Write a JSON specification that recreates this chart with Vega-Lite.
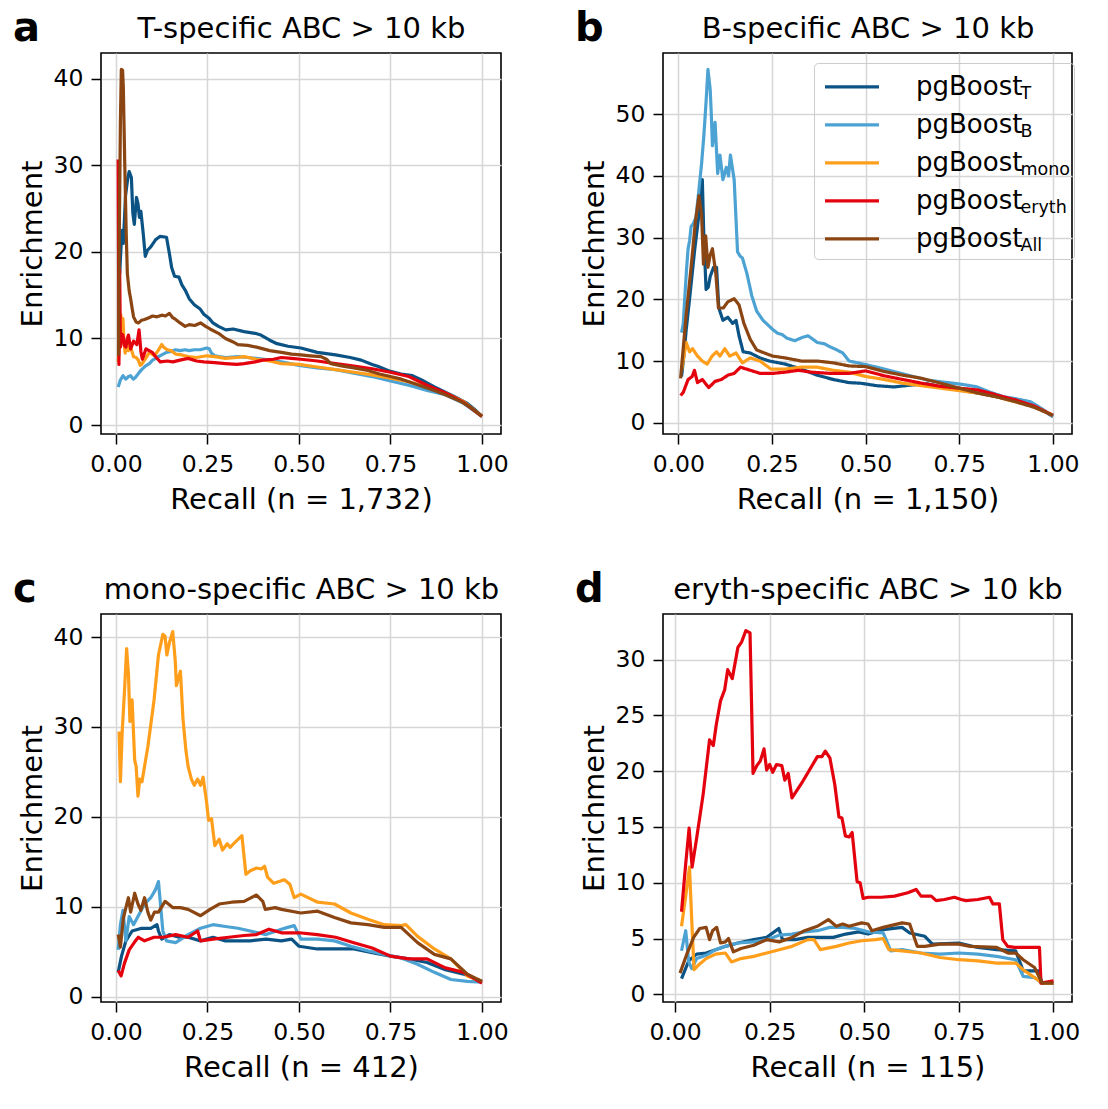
{
  "$schema": "https://vega.github.io/schema/vega-lite/v6.json",
  "background": "white",
  "padding": {"left": 12, "top": 8, "right": 5, "bottom": 5},
  "config": {
    "font": "DejaVu Sans",
    "view": {"stroke": "black", "strokeWidth": 1.6},
    "axis": {
      "labelFont": "DejaVu Sans", "labelFontSize": 23.5, "labelColor": "black",
      "titleFont": "DejaVu Sans", "titleFontSize": 29, "titleFontWeight": "normal", "titleColor": "black",
      "tickColor": "black", "tickSize": 10, "tickWidth": 1.5, "domain": false,
      "gridColor": "#d6d6d6", "gridWidth": 1.5, "gridOpacity": 1
    },
    "axisX": {"labelPadding": 8, "titlePadding": 10, "labelAngle": 0},
    "axisY": {"labelPadding": 8, "titlePadding": 6},
    "line": {"strokeWidth": 3.2, "strokeJoin": "round"}
  },
  "columns": 2,
  "spacing": {"row": 180, "column": 162},
  "bounds": "flush",
  "resolve": {"scale": {"color": "independent", "strokeDash": "independent"}, "legend": {"color": "independent", "strokeDash": "independent"}},
  "datasets": {
    "a": [
      {"model":"T","recall":0.010,"enrichment":17.5},{"model":"T","recall":0.016,"enrichment":22.5},{"model":"T","recall":0.020,"enrichment":21},{"model":"T","recall":0.026,"enrichment":26.5},{"model":"T","recall":0.032,"enrichment":28.5},{"model":"T","recall":0.036,"enrichment":29.3},{"model":"T","recall":0.042,"enrichment":28.6},{"model":"T","recall":0.046,"enrichment":24.5},{"model":"T","recall":0.050,"enrichment":23.2},{"model":"T","recall":0.056,"enrichment":26.3},{"model":"T","recall":0.060,"enrichment":25.6},{"model":"T","recall":0.064,"enrichment":24},{"model":"T","recall":0.068,"enrichment":24.7},{"model":"T","recall":0.074,"enrichment":22.3},{"model":"T","recall":0.080,"enrichment":19.5},{"model":"T","recall":0.086,"enrichment":20.2},{"model":"T","recall":0.095,"enrichment":20.6},{"model":"T","recall":0.108,"enrichment":21.4},{"model":"T","recall":0.120,"enrichment":21.8},{"model":"T","recall":0.138,"enrichment":21.7},{"model":"T","recall":0.146,"enrichment":19.8},{"model":"T","recall":0.152,"enrichment":18.2},{"model":"T","recall":0.160,"enrichment":17.2},{"model":"T","recall":0.172,"enrichment":17.1},{"model":"T","recall":0.180,"enrichment":16.2},{"model":"T","recall":0.189,"enrichment":15.6},{"model":"T","recall":0.200,"enrichment":14.6},{"model":"T","recall":0.214,"enrichment":13.9},{"model":"T","recall":0.230,"enrichment":13.4},{"model":"T","recall":0.240,"enrichment":12.8},{"model":"T","recall":0.255,"enrichment":12.3},{"model":"T","recall":0.265,"enrichment":11.8},{"model":"T","recall":0.280,"enrichment":11.4},{"model":"T","recall":0.300,"enrichment":11.0},{"model":"T","recall":0.320,"enrichment":11.1},{"model":"T","recall":0.350,"enrichment":10.8},{"model":"T","recall":0.380,"enrichment":10.6},{"model":"T","recall":0.396,"enrichment":10.4},{"model":"T","recall":0.420,"enrichment":9.8},{"model":"T","recall":0.440,"enrichment":9.4},{"model":"T","recall":0.470,"enrichment":9.1},{"model":"T","recall":0.505,"enrichment":8.9},{"model":"T","recall":0.550,"enrichment":8.4},{"model":"T","recall":0.600,"enrichment":8.1},{"model":"T","recall":0.640,"enrichment":7.8},{"model":"T","recall":0.670,"enrichment":7.5},{"model":"T","recall":0.700,"enrichment":7.0},{"model":"T","recall":0.715,"enrichment":6.8},{"model":"T","recall":0.750,"enrichment":6.2},{"model":"T","recall":0.779,"enrichment":5.9},{"model":"T","recall":0.810,"enrichment":5.7},{"model":"T","recall":0.835,"enrichment":5.2},{"model":"T","recall":0.870,"enrichment":4.4},{"model":"T","recall":0.900,"enrichment":3.8},{"model":"T","recall":0.924,"enrichment":3.3},{"model":"T","recall":0.960,"enrichment":2.5},{"model":"T","recall":0.980,"enrichment":1.8},{"model":"T","recall":1.000,"enrichment":1.0},
      {"model":"B","recall":0.006,"enrichment":4.4},{"model":"B","recall":0.012,"enrichment":5.2},{"model":"B","recall":0.019,"enrichment":5.7},{"model":"B","recall":0.027,"enrichment":5.3},{"model":"B","recall":0.034,"enrichment":5.6},{"model":"B","recall":0.040,"enrichment":5.7},{"model":"B","recall":0.047,"enrichment":5.3},{"model":"B","recall":0.053,"enrichment":5.5},{"model":"B","recall":0.062,"enrichment":6.0},{"model":"B","recall":0.070,"enrichment":6.4},{"model":"B","recall":0.080,"enrichment":6.8},{"model":"B","recall":0.091,"enrichment":7.1},{"model":"B","recall":0.100,"enrichment":7.5},{"model":"B","recall":0.112,"enrichment":7.8},{"model":"B","recall":0.125,"enrichment":8.1},{"model":"B","recall":0.138,"enrichment":8.4},{"model":"B","recall":0.150,"enrichment":8.5},{"model":"B","recall":0.163,"enrichment":8.7},{"model":"B","recall":0.175,"enrichment":8.6},{"model":"B","recall":0.189,"enrichment":8.7},{"model":"B","recall":0.200,"enrichment":8.6},{"model":"B","recall":0.214,"enrichment":8.7},{"model":"B","recall":0.230,"enrichment":8.7},{"model":"B","recall":0.248,"enrichment":8.9},{"model":"B","recall":0.255,"enrichment":8.8},{"model":"B","recall":0.261,"enrichment":8.3},{"model":"B","recall":0.270,"enrichment":8.0},{"model":"B","recall":0.282,"enrichment":7.9},{"model":"B","recall":0.300,"enrichment":7.8},{"model":"B","recall":0.333,"enrichment":7.9},{"model":"B","recall":0.360,"enrichment":7.8},{"model":"B","recall":0.384,"enrichment":7.7},{"model":"B","recall":0.420,"enrichment":7.5},{"model":"B","recall":0.452,"enrichment":7.3},{"model":"B","recall":0.500,"enrichment":6.9},{"model":"B","recall":0.550,"enrichment":6.6},{"model":"B","recall":0.600,"enrichment":6.4},{"model":"B","recall":0.650,"enrichment":6.0},{"model":"B","recall":0.700,"enrichment":5.6},{"model":"B","recall":0.750,"enrichment":5.1},{"model":"B","recall":0.800,"enrichment":4.6},{"model":"B","recall":0.850,"enrichment":4.0},{"model":"B","recall":0.900,"enrichment":3.5},{"model":"B","recall":0.950,"enrichment":2.5},{"model":"B","recall":1.000,"enrichment":1.0},
      {"model":"mono","recall":0.006,"enrichment":7.3},{"model":"mono","recall":0.010,"enrichment":9.5},{"model":"mono","recall":0.013,"enrichment":12.8},{"model":"mono","recall":0.016,"enrichment":10.5},{"model":"mono","recall":0.019,"enrichment":12.3},{"model":"mono","recall":0.022,"enrichment":9.5},{"model":"mono","recall":0.025,"enrichment":8.3},{"model":"mono","recall":0.030,"enrichment":9.5},{"model":"mono","recall":0.034,"enrichment":8.6},{"model":"mono","recall":0.040,"enrichment":9.0},{"model":"mono","recall":0.048,"enrichment":7.9},{"model":"mono","recall":0.055,"enrichment":7.8},{"model":"mono","recall":0.061,"enrichment":7.5},{"model":"mono","recall":0.066,"enrichment":6.9},{"model":"mono","recall":0.070,"enrichment":7.0},{"model":"mono","recall":0.078,"enrichment":7.5},{"model":"mono","recall":0.091,"enrichment":8.4},{"model":"mono","recall":0.105,"enrichment":8.0},{"model":"mono","recall":0.115,"enrichment":8.6},{"model":"mono","recall":0.125,"enrichment":9.3},{"model":"mono","recall":0.130,"enrichment":9.0},{"model":"mono","recall":0.140,"enrichment":8.7},{"model":"mono","recall":0.150,"enrichment":8.6},{"model":"mono","recall":0.163,"enrichment":8.2},{"model":"mono","recall":0.180,"enrichment":8.1},{"model":"mono","recall":0.197,"enrichment":7.9},{"model":"mono","recall":0.220,"enrichment":7.8},{"model":"mono","recall":0.248,"enrichment":8.0},{"model":"mono","recall":0.270,"enrichment":7.9},{"model":"mono","recall":0.299,"enrichment":7.7},{"model":"mono","recall":0.330,"enrichment":7.8},{"model":"mono","recall":0.350,"enrichment":7.9},{"model":"mono","recall":0.384,"enrichment":7.6},{"model":"mono","recall":0.420,"enrichment":7.4},{"model":"mono","recall":0.452,"enrichment":7.1},{"model":"mono","recall":0.500,"enrichment":7.0},{"model":"mono","recall":0.550,"enrichment":6.7},{"model":"mono","recall":0.600,"enrichment":6.4},{"model":"mono","recall":0.650,"enrichment":6.1},{"model":"mono","recall":0.700,"enrichment":5.8},{"model":"mono","recall":0.750,"enrichment":5.4},{"model":"mono","recall":0.800,"enrichment":5.0},{"model":"mono","recall":0.850,"enrichment":4.4},{"model":"mono","recall":0.900,"enrichment":3.7},{"model":"mono","recall":0.950,"enrichment":2.7},{"model":"mono","recall":1.000,"enrichment":1.0},
      {"model":"eryth","recall":0.006,"enrichment":30.7},{"model":"eryth","recall":0.008,"enrichment":7.0},{"model":"eryth","recall":0.010,"enrichment":18},{"model":"eryth","recall":0.012,"enrichment":9.0},{"model":"eryth","recall":0.016,"enrichment":10.5},{"model":"eryth","recall":0.019,"enrichment":10.4},{"model":"eryth","recall":0.023,"enrichment":9.2},{"model":"eryth","recall":0.027,"enrichment":9.0},{"model":"eryth","recall":0.031,"enrichment":10.0},{"model":"eryth","recall":0.034,"enrichment":10.4},{"model":"eryth","recall":0.040,"enrichment":8.8},{"model":"eryth","recall":0.048,"enrichment":9.7},{"model":"eryth","recall":0.057,"enrichment":9.3},{"model":"eryth","recall":0.063,"enrichment":11.0},{"model":"eryth","recall":0.068,"enrichment":8.5},{"model":"eryth","recall":0.072,"enrichment":7.6},{"model":"eryth","recall":0.082,"enrichment":8.8},{"model":"eryth","recall":0.099,"enrichment":8.4},{"model":"eryth","recall":0.110,"enrichment":7.8},{"model":"eryth","recall":0.121,"enrichment":7.3},{"model":"eryth","recall":0.140,"enrichment":7.4},{"model":"eryth","recall":0.155,"enrichment":7.3},{"model":"eryth","recall":0.175,"enrichment":7.5},{"model":"eryth","recall":0.197,"enrichment":7.7},{"model":"eryth","recall":0.220,"enrichment":7.4},{"model":"eryth","recall":0.240,"enrichment":7.3},{"model":"eryth","recall":0.270,"enrichment":7.2},{"model":"eryth","recall":0.299,"enrichment":7.1},{"model":"eryth","recall":0.330,"enrichment":7.0},{"model":"eryth","recall":0.350,"enrichment":7.1},{"model":"eryth","recall":0.380,"enrichment":7.3},{"model":"eryth","recall":0.401,"enrichment":7.5},{"model":"eryth","recall":0.430,"enrichment":7.6},{"model":"eryth","recall":0.452,"enrichment":7.8},{"model":"eryth","recall":0.480,"enrichment":7.7},{"model":"eryth","recall":0.505,"enrichment":7.6},{"model":"eryth","recall":0.550,"enrichment":7.4},{"model":"eryth","recall":0.600,"enrichment":7.1},{"model":"eryth","recall":0.650,"enrichment":6.8},{"model":"eryth","recall":0.700,"enrichment":6.5},{"model":"eryth","recall":0.750,"enrichment":6.1},{"model":"eryth","recall":0.800,"enrichment":5.6},{"model":"eryth","recall":0.850,"enrichment":4.6},{"model":"eryth","recall":0.900,"enrichment":3.7},{"model":"eryth","recall":0.950,"enrichment":2.6},{"model":"eryth","recall":1.000,"enrichment":1.0},
      {"model":"All","recall":0.007,"enrichment":8.0},{"model":"All","recall":0.0085,"enrichment":20},{"model":"All","recall":0.012,"enrichment":35},{"model":"All","recall":0.0145,"enrichment":41.1},{"model":"All","recall":0.018,"enrichment":41},{"model":"All","recall":0.020,"enrichment":39},{"model":"All","recall":0.024,"enrichment":30},{"model":"All","recall":0.028,"enrichment":22},{"model":"All","recall":0.031,"enrichment":17.5},{"model":"All","recall":0.036,"enrichment":15.5},{"model":"All","recall":0.040,"enrichment":14.6},{"model":"All","recall":0.044,"enrichment":13.5},{"model":"All","recall":0.048,"enrichment":12.5},{"model":"All","recall":0.055,"enrichment":11.9},{"model":"All","recall":0.061,"enrichment":11.8},{"model":"All","recall":0.070,"enrichment":12.1},{"model":"All","recall":0.078,"enrichment":12.2},{"model":"All","recall":0.090,"enrichment":12.4},{"model":"All","recall":0.100,"enrichment":12.6},{"model":"All","recall":0.112,"enrichment":12.5},{"model":"All","recall":0.125,"enrichment":12.7},{"model":"All","recall":0.135,"enrichment":12.6},{"model":"All","recall":0.146,"enrichment":12.9},{"model":"All","recall":0.155,"enrichment":12.4},{"model":"All","recall":0.163,"enrichment":12.2},{"model":"All","recall":0.175,"enrichment":11.8},{"model":"All","recall":0.189,"enrichment":11.4},{"model":"All","recall":0.200,"enrichment":11.6},{"model":"All","recall":0.215,"enrichment":11.5},{"model":"All","recall":0.231,"enrichment":11.8},{"model":"All","recall":0.245,"enrichment":11.4},{"model":"All","recall":0.257,"enrichment":11.1},{"model":"All","recall":0.280,"enrichment":10.6},{"model":"All","recall":0.299,"enrichment":10.0},{"model":"All","recall":0.320,"enrichment":9.6},{"model":"All","recall":0.333,"enrichment":9.3},{"model":"All","recall":0.360,"enrichment":9.2},{"model":"All","recall":0.384,"enrichment":9.0},{"model":"All","recall":0.420,"enrichment":8.6},{"model":"All","recall":0.452,"enrichment":8.4},{"model":"All","recall":0.480,"enrichment":8.2},{"model":"All","recall":0.505,"enrichment":8.1},{"model":"All","recall":0.530,"enrichment":8.0},{"model":"All","recall":0.560,"enrichment":7.9},{"model":"All","recall":0.575,"enrichment":7.6},{"model":"All","recall":0.587,"enrichment":7.1},{"model":"All","recall":0.620,"enrichment":6.8},{"model":"All","recall":0.650,"enrichment":6.6},{"model":"All","recall":0.688,"enrichment":6.3},{"model":"All","recall":0.720,"enrichment":5.9},{"model":"All","recall":0.750,"enrichment":5.6},{"model":"All","recall":0.780,"enrichment":5.3},{"model":"All","recall":0.820,"enrichment":4.7},{"model":"All","recall":0.870,"enrichment":4.0},{"model":"All","recall":0.900,"enrichment":3.5},{"model":"All","recall":0.943,"enrichment":2.7},{"model":"All","recall":0.970,"enrichment":2.0},{"model":"All","recall":1.000,"enrichment":1.0}
    ],
    "b": [
      {"model":"T","recall":0.0085,"enrichment":7.5},{"model":"T","recall":0.015,"enrichment":11},{"model":"T","recall":0.021,"enrichment":15.1},{"model":"T","recall":0.030,"enrichment":20.1},{"model":"T","recall":0.043,"enrichment":27.7},{"model":"T","recall":0.055,"enrichment":33.8},{"model":"T","recall":0.060,"enrichment":37},{"model":"T","recall":0.064,"enrichment":39.4},{"model":"T","recall":0.068,"enrichment":30.3},{"model":"T","recall":0.074,"enrichment":21.6},{"model":"T","recall":0.080,"enrichment":22},{"model":"T","recall":0.085,"enrichment":23.7},{"model":"T","recall":0.094,"enrichment":25.2},{"model":"T","recall":0.102,"enrichment":25.2},{"model":"T","recall":0.108,"enrichment":18.6},{"model":"T","recall":0.119,"enrichment":16.6},{"model":"T","recall":0.132,"enrichment":17.1},{"model":"T","recall":0.145,"enrichment":16.1},{"model":"T","recall":0.154,"enrichment":16.6},{"model":"T","recall":0.162,"enrichment":14.1},{"model":"T","recall":0.173,"enrichment":11.5},{"model":"T","recall":0.192,"enrichment":11.3},{"model":"T","recall":0.218,"enrichment":10.5},{"model":"T","recall":0.243,"enrichment":10.0},{"model":"T","recall":0.286,"enrichment":9.5},{"model":"T","recall":0.328,"enrichment":8.7},{"model":"T","recall":0.371,"enrichment":7.7},{"model":"T","recall":0.414,"enrichment":7.0},{"model":"T","recall":0.456,"enrichment":6.5},{"model":"T","recall":0.487,"enrichment":6.4},{"model":"T","recall":0.530,"enrichment":6.0},{"model":"T","recall":0.576,"enrichment":5.8},{"model":"T","recall":0.620,"enrichment":6.1},{"model":"T","recall":0.665,"enrichment":6.3},{"model":"T","recall":0.700,"enrichment":5.8},{"model":"T","recall":0.750,"enrichment":5.3},{"model":"T","recall":0.800,"enrichment":4.8},{"model":"T","recall":0.850,"enrichment":4.2},{"model":"T","recall":0.900,"enrichment":3.6},{"model":"T","recall":0.950,"enrichment":2.9},{"model":"T","recall":1.000,"enrichment":1.0},
      {"model":"B","recall":0.0085,"enrichment":14.6},{"model":"B","recall":0.013,"enrichment":16},{"model":"B","recall":0.017,"enrichment":20.1},{"model":"B","recall":0.022,"enrichment":25},{"model":"B","recall":0.026,"enrichment":28.2},{"model":"B","recall":0.030,"enrichment":29.5},{"model":"B","recall":0.034,"enrichment":31.8},{"model":"B","recall":0.040,"enrichment":32.3},{"model":"B","recall":0.047,"enrichment":33.3},{"model":"B","recall":0.055,"enrichment":37.8},{"model":"B","recall":0.062,"enrichment":42},{"model":"B","recall":0.068,"enrichment":46.5},{"model":"B","recall":0.074,"enrichment":52},{"model":"B","recall":0.079,"enrichment":57.3},{"model":"B","recall":0.085,"enrichment":54.0},{"model":"B","recall":0.088,"enrichment":50},{"model":"B","recall":0.091,"enrichment":44.9},{"model":"B","recall":0.098,"enrichment":48.7},{"model":"B","recall":0.105,"enrichment":40.4},{"model":"B","recall":0.111,"enrichment":43.4},{"model":"B","recall":0.119,"enrichment":39.4},{"model":"B","recall":0.128,"enrichment":41.4},{"model":"B","recall":0.134,"enrichment":40},{"model":"B","recall":0.139,"enrichment":43.4},{"model":"B","recall":0.149,"enrichment":39.4},{"model":"B","recall":0.158,"enrichment":27.7},{"model":"B","recall":0.165,"enrichment":27},{"model":"B","recall":0.171,"enrichment":26.7},{"model":"B","recall":0.183,"enrichment":24.2},{"model":"B","recall":0.196,"enrichment":20.6},{"model":"B","recall":0.209,"enrichment":18.1},{"model":"B","recall":0.226,"enrichment":16.6},{"model":"B","recall":0.240,"enrichment":15.8},{"model":"B","recall":0.252,"enrichment":15.1},{"model":"B","recall":0.265,"enrichment":14.5},{"model":"B","recall":0.277,"enrichment":14.3},{"model":"B","recall":0.290,"enrichment":13.7},{"model":"B","recall":0.311,"enrichment":13.3},{"model":"B","recall":0.330,"enrichment":13.8},{"model":"B","recall":0.346,"enrichment":14.1},{"model":"B","recall":0.360,"enrichment":13.5},{"model":"B","recall":0.371,"enrichment":13.0},{"model":"B","recall":0.390,"enrichment":12.8},{"model":"B","recall":0.405,"enrichment":12.3},{"model":"B","recall":0.420,"enrichment":11.9},{"model":"B","recall":0.439,"enrichment":11.3},{"model":"B","recall":0.456,"enrichment":10.0},{"model":"B","recall":0.487,"enrichment":9.6},{"model":"B","recall":0.530,"enrichment":9.0},{"model":"B","recall":0.576,"enrichment":8.3},{"model":"B","recall":0.620,"enrichment":7.6},{"model":"B","recall":0.665,"enrichment":6.9},{"model":"B","recall":0.720,"enrichment":6.5},{"model":"B","recall":0.760,"enrichment":6.2},{"model":"B","recall":0.798,"enrichment":5.8},{"model":"B","recall":0.830,"enrichment":5.0},{"model":"B","recall":0.869,"enrichment":4.2},{"model":"B","recall":0.900,"enrichment":3.9},{"model":"B","recall":0.940,"enrichment":3.4},{"model":"B","recall":0.970,"enrichment":2.3},{"model":"B","recall":1.000,"enrichment":1.0},
      {"model":"mono","recall":0.0085,"enrichment":8.5},{"model":"mono","recall":0.021,"enrichment":13.0},{"model":"mono","recall":0.030,"enrichment":11.5},{"model":"mono","recall":0.038,"enrichment":12.0},{"model":"mono","recall":0.051,"enrichment":10.8},{"model":"mono","recall":0.064,"enrichment":10.0},{"model":"mono","recall":0.077,"enrichment":9.5},{"model":"mono","recall":0.090,"enrichment":10.8},{"model":"mono","recall":0.102,"enrichment":11.5},{"model":"mono","recall":0.111,"enrichment":10.8},{"model":"mono","recall":0.124,"enrichment":12.0},{"model":"mono","recall":0.137,"enrichment":10.8},{"model":"mono","recall":0.154,"enrichment":11.3},{"model":"mono","recall":0.171,"enrichment":9.7},{"model":"mono","recall":0.192,"enrichment":10.5},{"model":"mono","recall":0.218,"enrichment":10.0},{"model":"mono","recall":0.247,"enrichment":8.7},{"model":"mono","recall":0.286,"enrichment":8.7},{"model":"mono","recall":0.328,"enrichment":9.0},{"model":"mono","recall":0.371,"enrichment":9.0},{"model":"mono","recall":0.414,"enrichment":8.5},{"model":"mono","recall":0.456,"enrichment":8.2},{"model":"mono","recall":0.500,"enrichment":7.5},{"model":"mono","recall":0.550,"enrichment":7.0},{"model":"mono","recall":0.600,"enrichment":6.4},{"model":"mono","recall":0.650,"enrichment":6.0},{"model":"mono","recall":0.700,"enrichment":5.6},{"model":"mono","recall":0.750,"enrichment":5.2},{"model":"mono","recall":0.800,"enrichment":4.8},{"model":"mono","recall":0.850,"enrichment":4.2},{"model":"mono","recall":0.900,"enrichment":3.4},{"model":"mono","recall":0.950,"enrichment":2.6},{"model":"mono","recall":1.000,"enrichment":1.2},
      {"model":"eryth","recall":0.006,"enrichment":4.4},{"model":"eryth","recall":0.013,"enrichment":4.9},{"model":"eryth","recall":0.026,"enrichment":7.0},{"model":"eryth","recall":0.037,"enrichment":7.5},{"model":"eryth","recall":0.043,"enrichment":8.5},{"model":"eryth","recall":0.051,"enrichment":6.5},{"model":"eryth","recall":0.064,"enrichment":7.0},{"model":"eryth","recall":0.081,"enrichment":5.7},{"model":"eryth","recall":0.098,"enrichment":6.7},{"model":"eryth","recall":0.115,"enrichment":7.0},{"model":"eryth","recall":0.132,"enrichment":7.7},{"model":"eryth","recall":0.149,"enrichment":8.0},{"model":"eryth","recall":0.166,"enrichment":9.0},{"model":"eryth","recall":0.192,"enrichment":8.5},{"model":"eryth","recall":0.218,"enrichment":8.0},{"model":"eryth","recall":0.252,"enrichment":8.0},{"model":"eryth","recall":0.286,"enrichment":8.2},{"model":"eryth","recall":0.320,"enrichment":8.5},{"model":"eryth","recall":0.354,"enrichment":8.2},{"model":"eryth","recall":0.405,"enrichment":8.0},{"model":"eryth","recall":0.456,"enrichment":8.0},{"model":"eryth","recall":0.500,"enrichment":8.4},{"model":"eryth","recall":0.550,"enrichment":7.6},{"model":"eryth","recall":0.600,"enrichment":7.0},{"model":"eryth","recall":0.650,"enrichment":6.4},{"model":"eryth","recall":0.700,"enrichment":5.9},{"model":"eryth","recall":0.750,"enrichment":5.6},{"model":"eryth","recall":0.800,"enrichment":5.3},{"model":"eryth","recall":0.850,"enrichment":4.5},{"model":"eryth","recall":0.900,"enrichment":3.7},{"model":"eryth","recall":0.950,"enrichment":2.7},{"model":"eryth","recall":1.000,"enrichment":1.2},
      {"model":"All","recall":0.006,"enrichment":7.2},{"model":"All","recall":0.021,"enrichment":17.6},{"model":"All","recall":0.034,"enrichment":25.2},{"model":"All","recall":0.045,"enrichment":32.3},{"model":"All","recall":0.055,"enrichment":36.8},{"model":"All","recall":0.062,"enrichment":33.8},{"model":"All","recall":0.067,"enrichment":25.7},{"model":"All","recall":0.073,"enrichment":30.3},{"model":"All","recall":0.079,"enrichment":25.2},{"model":"All","recall":0.085,"enrichment":27.2},{"model":"All","recall":0.091,"enrichment":28.2},{"model":"All","recall":0.100,"enrichment":24.2},{"model":"All","recall":0.107,"enrichment":18.6},{"model":"All","recall":0.120,"enrichment":18.6},{"model":"All","recall":0.132,"enrichment":19.6},{"model":"All","recall":0.149,"enrichment":20.1},{"model":"All","recall":0.162,"enrichment":19.1},{"model":"All","recall":0.175,"enrichment":16.1},{"model":"All","recall":0.192,"enrichment":13.5},{"model":"All","recall":0.209,"enrichment":11.8},{"model":"All","recall":0.230,"enrichment":11.3},{"model":"All","recall":0.252,"enrichment":10.8},{"model":"All","recall":0.286,"enrichment":10.5},{"model":"All","recall":0.328,"enrichment":10.0},{"model":"All","recall":0.371,"enrichment":10.0},{"model":"All","recall":0.414,"enrichment":9.7},{"model":"All","recall":0.456,"enrichment":9.2},{"model":"All","recall":0.500,"enrichment":9.1},{"model":"All","recall":0.550,"enrichment":8.3},{"model":"All","recall":0.600,"enrichment":7.7},{"model":"All","recall":0.650,"enrichment":7.2},{"model":"All","recall":0.700,"enrichment":6.4},{"model":"All","recall":0.750,"enrichment":5.6},{"model":"All","recall":0.800,"enrichment":4.8},{"model":"All","recall":0.850,"enrichment":4.2},{"model":"All","recall":0.900,"enrichment":3.4},{"model":"All","recall":0.950,"enrichment":2.5},{"model":"All","recall":1.000,"enrichment":1.2}
    ],
    "c": [
      {"model":"T","recall":0.006,"enrichment":2.7},{"model":"T","recall":0.015,"enrichment":4.5},{"model":"T","recall":0.027,"enrichment":6.2},{"model":"T","recall":0.044,"enrichment":7.3},{"model":"T","recall":0.070,"enrichment":7.6},{"model":"T","recall":0.095,"enrichment":7.6},{"model":"T","recall":0.112,"enrichment":8.0},{"model":"T","recall":0.116,"enrichment":7.3},{"model":"T","recall":0.125,"enrichment":6.4},{"model":"T","recall":0.146,"enrichment":6.9},{"model":"T","recall":0.172,"enrichment":6.6},{"model":"T","recall":0.197,"enrichment":6.6},{"model":"T","recall":0.231,"enrichment":6.2},{"model":"T","recall":0.265,"enrichment":6.6},{"model":"T","recall":0.299,"enrichment":6.2},{"model":"T","recall":0.333,"enrichment":6.2},{"model":"T","recall":0.367,"enrichment":6.2},{"model":"T","recall":0.410,"enrichment":6.4},{"model":"T","recall":0.452,"enrichment":6.2},{"model":"T","recall":0.480,"enrichment":6.4},{"model":"T","recall":0.500,"enrichment":5.6},{"model":"T","recall":0.550,"enrichment":5.3},{"model":"T","recall":0.600,"enrichment":5.3},{"model":"T","recall":0.650,"enrichment":5.3},{"model":"T","recall":0.700,"enrichment":4.9},{"model":"T","recall":0.750,"enrichment":4.5},{"model":"T","recall":0.800,"enrichment":4.2},{"model":"T","recall":0.850,"enrichment":3.8},{"model":"T","recall":0.900,"enrichment":3.0},{"model":"T","recall":0.950,"enrichment":2.5},{"model":"T","recall":1.000,"enrichment":1.7},
      {"model":"B","recall":0.006,"enrichment":5.2},{"model":"B","recall":0.012,"enrichment":8.0},{"model":"B","recall":0.019,"enrichment":9.6},{"model":"B","recall":0.027,"enrichment":6.2},{"model":"B","recall":0.036,"enrichment":8.9},{"model":"B","recall":0.048,"enrichment":8.0},{"model":"B","recall":0.061,"enrichment":9.0},{"model":"B","recall":0.078,"enrichment":10.3},{"model":"B","recall":0.095,"enrichment":11.0},{"model":"B","recall":0.108,"enrichment":11.9},{"model":"B","recall":0.116,"enrichment":12.8},{"model":"B","recall":0.128,"enrichment":7.3},{"model":"B","recall":0.138,"enrichment":6.2},{"model":"B","recall":0.163,"enrichment":6.0},{"model":"B","recall":0.197,"enrichment":6.9},{"model":"B","recall":0.231,"enrichment":7.6},{"model":"B","recall":0.265,"enrichment":8.0},{"model":"B","recall":0.299,"enrichment":7.8},{"model":"B","recall":0.333,"enrichment":7.6},{"model":"B","recall":0.367,"enrichment":7.3},{"model":"B","recall":0.410,"enrichment":6.9},{"model":"B","recall":0.452,"enrichment":7.5},{"model":"B","recall":0.469,"enrichment":7.7},{"model":"B","recall":0.487,"enrichment":7.9},{"model":"B","recall":0.505,"enrichment":6.4},{"model":"B","recall":0.551,"enrichment":6.4},{"model":"B","recall":0.597,"enrichment":6.2},{"model":"B","recall":0.642,"enrichment":5.6},{"model":"B","recall":0.688,"enrichment":5.1},{"model":"B","recall":0.733,"enrichment":4.7},{"model":"B","recall":0.779,"enrichment":4.3},{"model":"B","recall":0.824,"enrichment":3.6},{"model":"B","recall":0.870,"enrichment":2.7},{"model":"B","recall":0.915,"enrichment":1.9},{"model":"B","recall":0.960,"enrichment":1.7},{"model":"B","recall":1.000,"enrichment":1.6},
      {"model":"mono","recall":0.0085,"enrichment":29.5},{"model":"mono","recall":0.012,"enrichment":23.9},{"model":"mono","recall":0.017,"enrichment":29.5},{"model":"mono","recall":0.023,"enrichment":33.8},{"model":"mono","recall":0.029,"enrichment":38.7},{"model":"mono","recall":0.034,"enrichment":35.9},{"model":"mono","recall":0.038,"enrichment":30.6},{"model":"mono","recall":0.044,"enrichment":33.0},{"model":"mono","recall":0.051,"enrichment":26.3},{"model":"mono","recall":0.055,"enrichment":25.6},{"model":"mono","recall":0.060,"enrichment":22.3},{"model":"mono","recall":0.065,"enrichment":24.2},{"model":"mono","recall":0.071,"enrichment":23.9},{"model":"mono","recall":0.087,"enrichment":27.8},{"model":"mono","recall":0.104,"enrichment":33.0},{"model":"mono","recall":0.116,"enrichment":38.0},{"model":"mono","recall":0.128,"enrichment":40.3},{"model":"mono","recall":0.134,"enrichment":40.1},{"model":"mono","recall":0.139,"enrichment":38.0},{"model":"mono","recall":0.146,"enrichment":39.4},{"model":"mono","recall":0.155,"enrichment":40.6},{"model":"mono","recall":0.162,"enrichment":37.3},{"model":"mono","recall":0.165,"enrichment":34.6},{"model":"mono","recall":0.176,"enrichment":36.2},{"model":"mono","recall":0.183,"enrichment":30.9},{"model":"mono","recall":0.191,"enrichment":27.4},{"model":"mono","recall":0.197,"enrichment":25.6},{"model":"mono","recall":0.206,"enrichment":24.2},{"model":"mono","recall":0.214,"enrichment":23.5},{"model":"mono","recall":0.223,"enrichment":24.2},{"model":"mono","recall":0.231,"enrichment":23.5},{"model":"mono","recall":0.238,"enrichment":24.4},{"model":"mono","recall":0.247,"enrichment":21.8},{"model":"mono","recall":0.253,"enrichment":19.6},{"model":"mono","recall":0.261,"enrichment":19.8},{"model":"mono","recall":0.270,"enrichment":16.8},{"model":"mono","recall":0.282,"enrichment":17.5},{"model":"mono","recall":0.291,"enrichment":16.3},{"model":"mono","recall":0.304,"enrichment":17.0},{"model":"mono","recall":0.312,"enrichment":16.6},{"model":"mono","recall":0.321,"enrichment":17.0},{"model":"mono","recall":0.344,"enrichment":17.9},{"model":"mono","recall":0.355,"enrichment":13.6},{"model":"mono","recall":0.367,"enrichment":14.0},{"model":"mono","recall":0.384,"enrichment":14.3},{"model":"mono","recall":0.397,"enrichment":14.2},{"model":"mono","recall":0.406,"enrichment":14.5},{"model":"mono","recall":0.414,"enrichment":13.3},{"model":"mono","recall":0.431,"enrichment":12.6},{"model":"mono","recall":0.452,"enrichment":12.9},{"model":"mono","recall":0.460,"enrichment":13.0},{"model":"mono","recall":0.475,"enrichment":12.5},{"model":"mono","recall":0.487,"enrichment":11.0},{"model":"mono","recall":0.505,"enrichment":11.4},{"model":"mono","recall":0.551,"enrichment":10.5},{"model":"mono","recall":0.597,"enrichment":10.3},{"model":"mono","recall":0.642,"enrichment":9.3},{"model":"mono","recall":0.688,"enrichment":8.6},{"model":"mono","recall":0.733,"enrichment":8.0},{"model":"mono","recall":0.779,"enrichment":7.9},{"model":"mono","recall":0.792,"enrichment":8.0},{"model":"mono","recall":0.824,"enrichment":6.7},{"model":"mono","recall":0.870,"enrichment":5.3},{"model":"mono","recall":0.915,"enrichment":4.2},{"model":"mono","recall":0.960,"enrichment":2.3},{"model":"mono","recall":1.000,"enrichment":1.7},
      {"model":"eryth","recall":0.006,"enrichment":2.9},{"model":"eryth","recall":0.014,"enrichment":2.3},{"model":"eryth","recall":0.023,"enrichment":3.7},{"model":"eryth","recall":0.036,"enrichment":5.2},{"model":"eryth","recall":0.053,"enrichment":6.2},{"model":"eryth","recall":0.061,"enrichment":6.6},{"model":"eryth","recall":0.078,"enrichment":6.2},{"model":"eryth","recall":0.104,"enrichment":6.6},{"model":"eryth","recall":0.129,"enrichment":6.6},{"model":"eryth","recall":0.163,"enrichment":6.9},{"model":"eryth","recall":0.197,"enrichment":6.6},{"model":"eryth","recall":0.223,"enrichment":7.3},{"model":"eryth","recall":0.231,"enrichment":6.2},{"model":"eryth","recall":0.265,"enrichment":6.4},{"model":"eryth","recall":0.308,"enrichment":6.6},{"model":"eryth","recall":0.350,"enrichment":6.8},{"model":"eryth","recall":0.384,"enrichment":6.9},{"model":"eryth","recall":0.418,"enrichment":7.5},{"model":"eryth","recall":0.452,"enrichment":7.1},{"model":"eryth","recall":0.500,"enrichment":7.1},{"model":"eryth","recall":0.550,"enrichment":6.9},{"model":"eryth","recall":0.600,"enrichment":6.6},{"model":"eryth","recall":0.650,"enrichment":6.0},{"model":"eryth","recall":0.700,"enrichment":5.4},{"model":"eryth","recall":0.750,"enrichment":4.5},{"model":"eryth","recall":0.800,"enrichment":4.2},{"model":"eryth","recall":0.850,"enrichment":4.2},{"model":"eryth","recall":0.900,"enrichment":3.2},{"model":"eryth","recall":0.950,"enrichment":2.7},{"model":"eryth","recall":1.000,"enrichment":1.5},
      {"model":"All","recall":0.006,"enrichment":6.9},{"model":"All","recall":0.012,"enrichment":5.5},{"model":"All","recall":0.020,"enrichment":8.7},{"model":"All","recall":0.027,"enrichment":9.9},{"model":"All","recall":0.034,"enrichment":11.0},{"model":"All","recall":0.040,"enrichment":9.4},{"model":"All","recall":0.051,"enrichment":11.5},{"model":"All","recall":0.060,"enrichment":10.3},{"model":"All","recall":0.068,"enrichment":9.6},{"model":"All","recall":0.078,"enrichment":11.0},{"model":"All","recall":0.087,"enrichment":9.4},{"model":"All","recall":0.095,"enrichment":8.5},{"model":"All","recall":0.105,"enrichment":9.4},{"model":"All","recall":0.116,"enrichment":9.4},{"model":"All","recall":0.134,"enrichment":10.6},{"model":"All","recall":0.155,"enrichment":9.9},{"model":"All","recall":0.176,"enrichment":9.9},{"model":"All","recall":0.197,"enrichment":9.7},{"model":"All","recall":0.231,"enrichment":9.0},{"model":"All","recall":0.257,"enrichment":9.7},{"model":"All","recall":0.282,"enrichment":10.3},{"model":"All","recall":0.316,"enrichment":10.5},{"model":"All","recall":0.350,"enrichment":10.6},{"model":"All","recall":0.384,"enrichment":11.3},{"model":"All","recall":0.401,"enrichment":10.6},{"model":"All","recall":0.408,"enrichment":9.7},{"model":"All","recall":0.435,"enrichment":9.9},{"model":"All","recall":0.452,"enrichment":9.7},{"model":"All","recall":0.505,"enrichment":9.3},{"model":"All","recall":0.551,"enrichment":9.5},{"model":"All","recall":0.597,"enrichment":8.8},{"model":"All","recall":0.642,"enrichment":8.2},{"model":"All","recall":0.688,"enrichment":8.0},{"model":"All","recall":0.733,"enrichment":7.7},{"model":"All","recall":0.779,"enrichment":7.7},{"model":"All","recall":0.824,"enrichment":6.0},{"model":"All","recall":0.870,"enrichment":4.7},{"model":"All","recall":0.915,"enrichment":4.2},{"model":"All","recall":0.960,"enrichment":2.5},{"model":"All","recall":1.000,"enrichment":1.7}
    ],
    "d": [
      {"model":"T","recall":0.017,"enrichment":1.4},{"model":"T","recall":0.036,"enrichment":3.0},{"model":"T","recall":0.057,"enrichment":3.6},{"model":"T","recall":0.082,"enrichment":3.7},{"model":"T","recall":0.107,"enrichment":4.0},{"model":"T","recall":0.133,"enrichment":4.3},{"model":"T","recall":0.166,"enrichment":4.6},{"model":"T","recall":0.208,"enrichment":4.9},{"model":"T","recall":0.242,"enrichment":5.1},{"model":"T","recall":0.274,"enrichment":5.9},{"model":"T","recall":0.284,"enrichment":4.9},{"model":"T","recall":0.317,"enrichment":4.9},{"model":"T","recall":0.351,"enrichment":5.1},{"model":"T","recall":0.384,"enrichment":5.1},{"model":"T","recall":0.418,"enrichment":5.1},{"model":"T","recall":0.451,"enrichment":5.4},{"model":"T","recall":0.485,"enrichment":5.6},{"model":"T","recall":0.510,"enrichment":5.4},{"model":"T","recall":0.550,"enrichment":5.8},{"model":"T","recall":0.600,"enrichment":6.0},{"model":"T","recall":0.620,"enrichment":5.5},{"model":"T","recall":0.660,"enrichment":5.2},{"model":"T","recall":0.680,"enrichment":4.5},{"model":"T","recall":0.750,"enrichment":4.6},{"model":"T","recall":0.800,"enrichment":4.2},{"model":"T","recall":0.850,"enrichment":4.0},{"model":"T","recall":0.900,"enrichment":3.9},{"model":"T","recall":0.920,"enrichment":2.1},{"model":"T","recall":0.960,"enrichment":2.1},{"model":"T","recall":0.970,"enrichment":1.0},{"model":"T","recall":1.000,"enrichment":1.0},
      {"model":"B","recall":0.017,"enrichment":3.9},{"model":"B","recall":0.028,"enrichment":5.7},{"model":"B","recall":0.036,"enrichment":2.9},{"model":"B","recall":0.044,"enrichment":2.3},{"model":"B","recall":0.057,"enrichment":3.2},{"model":"B","recall":0.082,"enrichment":3.5},{"model":"B","recall":0.107,"enrichment":4.0},{"model":"B","recall":0.133,"enrichment":4.3},{"model":"B","recall":0.166,"enrichment":4.6},{"model":"B","recall":0.208,"enrichment":4.7},{"model":"B","recall":0.242,"enrichment":4.9},{"model":"B","recall":0.275,"enrichment":5.3},{"model":"B","recall":0.309,"enrichment":5.4},{"model":"B","recall":0.342,"enrichment":5.6},{"model":"B","recall":0.376,"enrichment":5.7},{"model":"B","recall":0.409,"enrichment":6.0},{"model":"B","recall":0.443,"enrichment":6.0},{"model":"B","recall":0.477,"enrichment":5.9},{"model":"B","recall":0.510,"enrichment":5.6},{"model":"B","recall":0.550,"enrichment":5.5},{"model":"B","recall":0.570,"enrichment":3.9},{"model":"B","recall":0.600,"enrichment":4.0},{"model":"B","recall":0.650,"enrichment":3.7},{"model":"B","recall":0.700,"enrichment":3.6},{"model":"B","recall":0.750,"enrichment":3.7},{"model":"B","recall":0.800,"enrichment":3.6},{"model":"B","recall":0.850,"enrichment":3.4},{"model":"B","recall":0.900,"enrichment":3.1},{"model":"B","recall":0.920,"enrichment":1.6},{"model":"B","recall":0.950,"enrichment":1.5},{"model":"B","recall":0.970,"enrichment":1.0},{"model":"B","recall":1.000,"enrichment":1.0},
      {"model":"mono","recall":0.017,"enrichment":6.1},{"model":"mono","recall":0.028,"enrichment":8.8},{"model":"mono","recall":0.038,"enrichment":11.4},{"model":"mono","recall":0.044,"enrichment":6.6},{"model":"mono","recall":0.050,"enrichment":2.2},{"model":"mono","recall":0.061,"enrichment":2.6},{"model":"mono","recall":0.082,"enrichment":3.2},{"model":"mono","recall":0.107,"enrichment":3.6},{"model":"mono","recall":0.133,"enrichment":3.7},{"model":"mono","recall":0.149,"enrichment":2.9},{"model":"mono","recall":0.174,"enrichment":3.2},{"model":"mono","recall":0.208,"enrichment":3.4},{"model":"mono","recall":0.242,"enrichment":3.7},{"model":"mono","recall":0.275,"enrichment":4.0},{"model":"mono","recall":0.309,"enrichment":4.3},{"model":"mono","recall":0.351,"enrichment":4.9},{"model":"mono","recall":0.367,"enrichment":4.9},{"model":"mono","recall":0.384,"enrichment":4.0},{"model":"mono","recall":0.426,"enrichment":4.3},{"model":"mono","recall":0.460,"enrichment":4.6},{"model":"mono","recall":0.493,"enrichment":4.8},{"model":"mono","recall":0.530,"enrichment":4.9},{"model":"mono","recall":0.550,"enrichment":5.0},{"model":"mono","recall":0.565,"enrichment":4.0},{"model":"mono","recall":0.600,"enrichment":3.9},{"model":"mono","recall":0.650,"enrichment":3.7},{"model":"mono","recall":0.700,"enrichment":3.3},{"model":"mono","recall":0.750,"enrichment":3.1},{"model":"mono","recall":0.800,"enrichment":3.0},{"model":"mono","recall":0.850,"enrichment":2.8},{"model":"mono","recall":0.900,"enrichment":2.8},{"model":"mono","recall":0.920,"enrichment":2.2},{"model":"mono","recall":0.950,"enrichment":1.5},{"model":"mono","recall":0.970,"enrichment":1.0},{"model":"mono","recall":1.000,"enrichment":1.0},
      {"model":"eryth","recall":0.017,"enrichment":7.4},{"model":"eryth","recall":0.028,"enrichment":11.7},{"model":"eryth","recall":0.037,"enrichment":14.9},{"model":"eryth","recall":0.045,"enrichment":11.4},{"model":"eryth","recall":0.057,"enrichment":14.0},{"model":"eryth","recall":0.074,"enrichment":17.9},{"model":"eryth","recall":0.091,"enrichment":22.8},{"model":"eryth","recall":0.101,"enrichment":22.3},{"model":"eryth","recall":0.109,"enrichment":24.2},{"model":"eryth","recall":0.120,"enrichment":26.3},{"model":"eryth","recall":0.131,"enrichment":27.3},{"model":"eryth","recall":0.139,"enrichment":29.1},{"model":"eryth","recall":0.151,"enrichment":28.3},{"model":"eryth","recall":0.166,"enrichment":31.1},{"model":"eryth","recall":0.176,"enrichment":31.6},{"model":"eryth","recall":0.187,"enrichment":32.6},{"model":"eryth","recall":0.198,"enrichment":32.4},{"model":"eryth","recall":0.206,"enrichment":19.8},{"model":"eryth","recall":0.216,"enrichment":20.5},{"model":"eryth","recall":0.225,"enrichment":20.9},{"model":"eryth","recall":0.235,"enrichment":22.0},{"model":"eryth","recall":0.242,"enrichment":20.1},{"model":"eryth","recall":0.250,"enrichment":20.6},{"model":"eryth","recall":0.258,"enrichment":19.9},{"model":"eryth","recall":0.268,"enrichment":20.6},{"model":"eryth","recall":0.282,"enrichment":20.5},{"model":"eryth","recall":0.290,"enrichment":19.2},{"model":"eryth","recall":0.299,"enrichment":19.8},{"model":"eryth","recall":0.309,"enrichment":17.6},{"model":"eryth","recall":0.334,"enrichment":18.9},{"model":"eryth","recall":0.376,"enrichment":21.3},{"model":"eryth","recall":0.388,"enrichment":21.3},{"model":"eryth","recall":0.397,"enrichment":21.8},{"model":"eryth","recall":0.409,"enrichment":21.2},{"model":"eryth","recall":0.422,"enrichment":18.8},{"model":"eryth","recall":0.433,"enrichment":15.9},{"model":"eryth","recall":0.441,"enrichment":15.8},{"model":"eryth","recall":0.450,"enrichment":14.2},{"model":"eryth","recall":0.460,"enrichment":14.1},{"model":"eryth","recall":0.468,"enrichment":14.5},{"model":"eryth","recall":0.481,"enrichment":10.1},{"model":"eryth","recall":0.489,"enrichment":10.0},{"model":"eryth","recall":0.497,"enrichment":8.6},{"model":"eryth","recall":0.510,"enrichment":8.7},{"model":"eryth","recall":0.545,"enrichment":8.7},{"model":"eryth","recall":0.580,"enrichment":8.8},{"model":"eryth","recall":0.615,"enrichment":9.1},{"model":"eryth","recall":0.637,"enrichment":9.4},{"model":"eryth","recall":0.650,"enrichment":8.8},{"model":"eryth","recall":0.677,"enrichment":8.8},{"model":"eryth","recall":0.690,"enrichment":8.4},{"model":"eryth","recall":0.712,"enrichment":8.5},{"model":"eryth","recall":0.738,"enrichment":8.7},{"model":"eryth","recall":0.756,"enrichment":8.5},{"model":"eryth","recall":0.769,"enrichment":8.4},{"model":"eryth","recall":0.800,"enrichment":8.5},{"model":"eryth","recall":0.831,"enrichment":8.7},{"model":"eryth","recall":0.840,"enrichment":8.1},{"model":"eryth","recall":0.857,"enrichment":8.1},{"model":"eryth","recall":0.866,"enrichment":4.9},{"model":"eryth","recall":0.879,"enrichment":4.3},{"model":"eryth","recall":0.897,"enrichment":4.2},{"model":"eryth","recall":0.963,"enrichment":4.2},{"model":"eryth","recall":0.967,"enrichment":1.0},{"model":"eryth","recall":1.000,"enrichment":1.2},
      {"model":"All","recall":0.013,"enrichment":1.9},{"model":"All","recall":0.032,"enrichment":3.7},{"model":"All","recall":0.049,"enrichment":5.1},{"model":"All","recall":0.065,"enrichment":5.9},{"model":"All","recall":0.082,"enrichment":6.0},{"model":"All","recall":0.091,"enrichment":4.9},{"model":"All","recall":0.099,"enrichment":5.7},{"model":"All","recall":0.110,"enrichment":6.0},{"model":"All","recall":0.120,"enrichment":4.6},{"model":"All","recall":0.133,"enrichment":4.7},{"model":"All","recall":0.141,"enrichment":5.0},{"model":"All","recall":0.154,"enrichment":3.8},{"model":"All","recall":0.174,"enrichment":4.1},{"model":"All","recall":0.208,"enrichment":4.4},{"model":"All","recall":0.242,"enrichment":4.9},{"model":"All","recall":0.275,"enrichment":4.7},{"model":"All","recall":0.309,"enrichment":5.1},{"model":"All","recall":0.342,"enrichment":5.7},{"model":"All","recall":0.376,"enrichment":6.1},{"model":"All","recall":0.405,"enrichment":6.7},{"model":"All","recall":0.426,"enrichment":6.1},{"model":"All","recall":0.443,"enrichment":6.3},{"model":"All","recall":0.460,"enrichment":6.1},{"model":"All","recall":0.493,"enrichment":6.4},{"model":"All","recall":0.510,"enrichment":6.3},{"model":"All","recall":0.520,"enrichment":5.7},{"model":"All","recall":0.550,"enrichment":6.0},{"model":"All","recall":0.600,"enrichment":6.4},{"model":"All","recall":0.620,"enrichment":6.3},{"model":"All","recall":0.640,"enrichment":4.3},{"model":"All","recall":0.660,"enrichment":4.3},{"model":"All","recall":0.700,"enrichment":4.5},{"model":"All","recall":0.750,"enrichment":4.5},{"model":"All","recall":0.780,"enrichment":4.3},{"model":"All","recall":0.850,"enrichment":4.2},{"model":"All","recall":0.880,"enrichment":3.7},{"model":"All","recall":0.900,"enrichment":3.7},{"model":"All","recall":0.920,"enrichment":3.1},{"model":"All","recall":0.950,"enrichment":2.4},{"model":"All","recall":0.970,"enrichment":1.0},{"model":"All","recall":1.000,"enrichment":1.0}
    ]
  },
  "concat": [
    {
      "width": 400, "height": 381,
      "data": {"name": "a"},
      "title": {"text": "a", "anchor": "start", "frame": "group", "font": "DejaVu Sans", "fontSize": 40, "fontWeight": "bold", "color": "black", "dx": -88, "dy": 67, "offset": 0, "baseline": "alphabetic"},
      "layer": [
        {
          "mark": {"type": "line"},
          "encoding": {
            "x": {"field": "recall", "type": "quantitative", "scale": {"domain": [-0.041, 1.052], "nice": false, "zero": false}, "axis": {"values": [0, 0.25, 0.5, 0.75, 1], "format": ".2f", "title": "Recall (n = 1,732)"}},
            "y": {"field": "enrichment", "type": "quantitative", "scale": {"domain": [-1.04, 43.0], "nice": false, "zero": false}, "axis": {"values": [0, 10, 20, 30, 40], "format": "d", "title": "Enrichment"}},
            "color": {"field": "model", "type": "nominal", "scale": {"domain": ["T", "B", "mono", "eryth", "All"], "range": ["#0b5384", "#4ca3d3", "#ff9e1b", "#e3020e", "#8b4513"]}, "legend": null}
          }
        },
        {
          "mark": {"type": "point", "opacity": 0},
          "encoding": {
            "x": {"field": "recall", "type": "quantitative", "scale": {"domain": [-0.041, 1.052], "nice": false, "zero": false}, "axis": {"orient": "top", "title": "T-specific ABC > 10 kb", "labels": false, "ticks": false, "domain": false, "grid": false, "titleFontSize": 29, "titlePadding": 10}}
          }
        }
      ],
      "resolve": {"axis": {"x": "independent"}}
    },
    {
      "width": 409, "height": 381,
      "data": {"name": "b"},
      "title": {"text": "b", "anchor": "start", "frame": "group", "font": "DejaVu Sans", "fontSize": 40, "fontWeight": "bold", "color": "black", "dx": -88, "dy": 67, "offset": 0, "baseline": "alphabetic"},
      "layer": [
        {
          "mark": {"type": "line"},
          "encoding": {
            "x": {"field": "recall", "type": "quantitative", "scale": {"domain": [-0.041, 1.051], "nice": false, "zero": false}, "axis": {"values": [0, 0.25, 0.5, 0.75, 1], "format": ".2f", "title": "Recall (n = 1,150)"}},
            "y": {"field": "enrichment", "type": "quantitative", "scale": {"domain": [-1.83, 59.94], "nice": false, "zero": false}, "axis": {"values": [0, 10, 20, 30, 40, 50], "format": "d", "title": "Enrichment"}},
            "color": {"field": "model", "type": "nominal", "scale": {"domain": ["T", "B", "mono", "eryth", "All"], "range": ["#0b5384", "#4ca3d3", "#ff9e1b", "#e3020e", "#8b4513"]},
              "legend": {"orient": "none", "legendX": 151, "legendY": 13, "title": null, "labelExpr": "'pgBoost'", "labelFont": "DejaVu Sans", "labelFontSize": 26, "labelColor": "black", "symbolType": "M-1.5,0H1.5", "symbolSize": 1296, "symbolStrokeWidth": 3.5, "symbolOffset": 16, "labelOffset": 44, "padding": 2, "clipHeight": 37.7, "rowPadding": 0}},
            "strokeDash": {"field": "model", "type": "nominal", "sort": ["T", "B", "mono", "eryth", "All"], "scale": {"range": [[1, 0], [1, 0], [1, 0], [1, 0], [1, 0]]},
              "legend": {"orient": "none", "legendX": 151, "legendY": 10, "title": null, "labelFont": "DejaVu Sans", "labelFontSize": 17.5, "labelColor": "black", "labelBaseline": "top", "symbolSize": 0, "symbolStrokeWidth": 0, "symbolStrokeColor": "transparent", "symbolOpacity": 0, "labelOffset": 186, "padding": 3, "clipHeight": 37.7, "rowPadding": 0, "strokeColor": "#cccccc", "cornerRadius": 4}}
          }
        },
        {
          "mark": {"type": "point", "opacity": 0},
          "encoding": {
            "x": {"field": "recall", "type": "quantitative", "scale": {"domain": [-0.041, 1.051], "nice": false, "zero": false}, "axis": {"orient": "top", "title": "B-specific ABC > 10 kb", "labels": false, "ticks": false, "domain": false, "grid": false, "titleFontSize": 29, "titlePadding": 10}}
          }
        }
      ],
      "resolve": {"axis": {"x": "independent"}}
    },
    {
      "width": 400, "height": 388,
      "data": {"name": "c"},
      "title": {"text": "c", "anchor": "start", "frame": "group", "font": "DejaVu Sans", "fontSize": 40, "fontWeight": "bold", "color": "black", "dx": -88, "dy": 67, "offset": 0, "baseline": "alphabetic"},
      "layer": [
        {
          "mark": {"type": "line"},
          "encoding": {
            "x": {"field": "recall", "type": "quantitative", "scale": {"domain": [-0.041, 1.052], "nice": false, "zero": false}, "axis": {"values": [0, 0.25, 0.5, 0.75, 1], "format": ".2f", "title": "Recall (n = 412)"}},
            "y": {"field": "enrichment", "type": "quantitative", "scale": {"domain": [-0.6, 42.56], "nice": false, "zero": false}, "axis": {"values": [0, 10, 20, 30, 40], "format": "d", "title": "Enrichment"}},
            "color": {"field": "model", "type": "nominal", "scale": {"domain": ["T", "B", "mono", "eryth", "All"], "range": ["#0b5384", "#4ca3d3", "#ff9e1b", "#e3020e", "#8b4513"]}, "legend": null}
          }
        },
        {
          "mark": {"type": "point", "opacity": 0},
          "encoding": {
            "x": {"field": "recall", "type": "quantitative", "scale": {"domain": [-0.041, 1.052], "nice": false, "zero": false}, "axis": {"orient": "top", "title": "mono-specific ABC > 10 kb", "labels": false, "ticks": false, "domain": false, "grid": false, "titleFontSize": 29, "titlePadding": 10}}
          }
        }
      ],
      "resolve": {"axis": {"x": "independent"}}
    },
    {
      "width": 409, "height": 388,
      "data": {"name": "d"},
      "title": {"text": "d", "anchor": "start", "frame": "group", "font": "DejaVu Sans", "fontSize": 40, "fontWeight": "bold", "color": "black", "dx": -88, "dy": 67, "offset": 0, "baseline": "alphabetic"},
      "layer": [
        {
          "mark": {"type": "line"},
          "encoding": {
            "x": {"field": "recall", "type": "quantitative", "scale": {"domain": [-0.032, 1.049], "nice": false, "zero": false}, "axis": {"values": [0, 0.25, 0.5, 0.75, 1], "format": ".2f", "title": "Recall (n = 115)"}},
            "y": {"field": "enrichment", "type": "quantitative", "scale": {"domain": [-0.69, 34.09], "nice": false, "zero": false}, "axis": {"values": [0, 5, 10, 15, 20, 25, 30], "format": "d", "title": "Enrichment"}},
            "color": {"field": "model", "type": "nominal", "scale": {"domain": ["T", "B", "mono", "eryth", "All"], "range": ["#0b5384", "#4ca3d3", "#ff9e1b", "#e3020e", "#8b4513"]}, "legend": null}
          }
        },
        {
          "mark": {"type": "point", "opacity": 0},
          "encoding": {
            "x": {"field": "recall", "type": "quantitative", "scale": {"domain": [-0.032, 1.049], "nice": false, "zero": false}, "axis": {"orient": "top", "title": "eryth-specific ABC > 10 kb", "labels": false, "ticks": false, "domain": false, "grid": false, "titleFontSize": 29, "titlePadding": 10}}
          }
        }
      ],
      "resolve": {"axis": {"x": "independent"}}
    }
  ]
}
